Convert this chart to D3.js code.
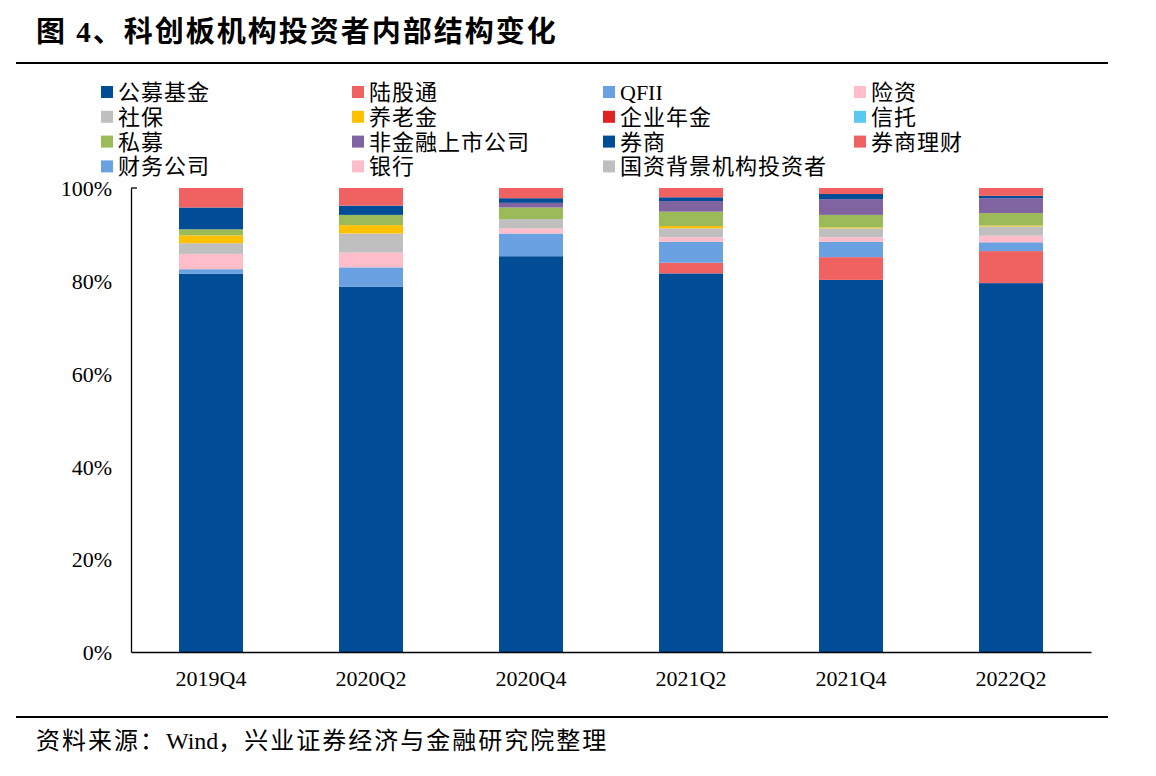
<!DOCTYPE html>
<html>
<head>
<meta charset="utf-8">
<script src="https://cdn.jsdelivr.net/npm/d3@7/dist/d3.min.js"></script>
<style>
  body { margin: 0; background: #fff; }
  text { font-family: "Liberation Serif", "Noto Sans CJK SC", serif; fill: #000; }
</style>
</head>
<body>
<div id="chart"></div>
<script>
// 季度
const periods = ["2019Q4", "2020Q2", "2020Q4", "2021Q2", "2021Q4", "2022Q2"];

// 系列（自下而上堆叠）
const seriesNames = ["公募基金", "陆股通", "QFII", "险资", "社保", "养老金", "企业年金", "信托",
    "私募", "非金融上市公司", "券商", "券商理财", "财务公司", "银行", "国资背景机构投资者"];
const seriesColors = ["#004C97", "#F06262", "#69A1E2", "#FFBDC9", "#BFBFBF", "#FFC000", "#E02222", "#5BC8F0",
    "#9BBB59", "#8064A2", "#004C97", "#F06262", "#69A1E2", "#FFBDC9", "#BFBFBF"];

// 各系列占比（%），按 periods 顺序
const gongmu     = [81.5, 78.7, 85.3, 81.6, 80.2, 79.5];
const lugutong   = [0.0, 0.0, 0.0, 2.3, 4.9, 6.9];
const qfii       = [1.0, 4.2, 4.9, 4.5, 3.3, 1.9];
const xianzi     = [3.3, 3.2, 1.1, 1.0, 1.0, 1.4];
const shebao     = [2.3, 4.1, 2.0, 1.9, 1.9, 2.0];
const yanglao    = [1.7, 1.8, 0.0, 0.5, 0.2, 0.2];
const qiyenianjin = [0.0, 0.0, 0.0, 0.0, 0.0, 0.0];
const xintuo     = [0.0, 0.0, 0.0, 0.0, 0.0, 0.0];
const simu       = [1.3, 2.2, 2.5, 3.1, 2.7, 2.7];
const feijinrong = [0.0, 0.0, 1.0, 2.3, 3.4, 3.2];
const quanshang  = [4.7, 2.0, 1.0, 0.8, 1.1, 0.5];
const qslicai    = [4.2, 3.8, 2.2, 2.0, 1.3, 1.7];
const caiwu      = [0.0, 0.0, 0.0, 0.0, 0.0, 0.0];
const yinhang    = [0.0, 0.0, 0.0, 0.0, 0.0, 0.0];
const guozi      = [0.0, 0.0, 0.0, 0.0, 0.0, 0.0];

const seriesValues = [gongmu, lugutong, qfii, xianzi, shebao, yanglao, qiyenianjin, xintuo,
    simu, feijinrong, quanshang, qslicai, caiwu, yinhang, guozi];

const yTicks = [0, 20, 40, 60, 80, 100];

const width = 1156, height = 776;
const svg = d3.select("#chart").append("svg")
    .attr("width", width).attr("height", height);

// 标题
svg.append("text")
    .attr("x", 36).attr("y", 42)
    .style("font-size", "29px").style("font-weight", "bold")
    .style("letter-spacing", "2px")
    .text("图 4、科创板机构投资者内部结构变化");

svg.append("line").attr("x1", 16).attr("x2", 1108).attr("y1", 63).attr("y2", 63)
    .attr("stroke", "#000").attr("stroke-width", 2);
svg.append("line").attr("x1", 16).attr("x2", 1108).attr("y1", 717).attr("y2", 717)
    .attr("stroke", "#000").attr("stroke-width", 2);

// 资料来源（拉丁字母不加字距）
const src = svg.append("text")
    .attr("x", 36).attr("y", 749)
    .style("font-size", "24px");
src.append("tspan").style("letter-spacing", "2px").text("资料来源：");
src.append("tspan").text("Wind");
src.append("tspan").style("letter-spacing", "2px").text("，兴业证券经济与金融研究院整理");

// 图例
const legendX = [101, 352, 603, 854];
const legend = svg.append("g");
seriesNames.forEach((name, i) => {
    const col = i % 4, row = Math.floor(i / 4);
    const g = legend.append("g")
        .attr("transform", `translate(${legendX[col]},${92 + row * 24.8})`);
    g.append("rect").attr("x", 0).attr("y", -6).attr("width", 12).attr("height", 12)
        .attr("fill", seriesColors[i]);
    g.append("text").attr("x", 17).attr("y", 8)
        .style("font-size", "22px")
        .style("letter-spacing", /^[A-Z]+$/.test(name) ? "0px" : "1px")
        .text(name);
});

// 坐标
const x = d3.scaleBand().domain(periods).range([131, 1091]).paddingInner(0.6).paddingOuter(0.3);
const y = d3.scaleLinear().domain([0, 100]).range([652, 188]);

const stackData = periods.map((p, j) => {
    const row = { period: p };
    seriesNames.forEach((s, i) => { row[s] = seriesValues[i][j]; });
    return row;
});
const stacked = d3.stack().keys(seriesNames)(stackData);

svg.append("g").selectAll("g")
    .data(stacked)
    .enter().append("g")
    .attr("fill", (d, i) => seriesColors[i])
    .selectAll("rect")
    .data(d => d)
    .enter().append("rect")
    .attr("x", d => x(d.data.period))
    .attr("width", x.bandwidth())
    .attr("y", d => y(Math.min(d[1], 100)))
    .attr("height", d => Math.max(0, y(d[0]) - y(Math.min(d[1], 100))));

// y 轴
const yAxis = svg.append("g").attr("transform", "translate(131,0)")
    .call(d3.axisLeft(y).tickValues(yTicks).tickSize(0).tickPadding(19).tickFormat(d => d + "%"));
yAxis.select(".domain").attr("stroke", "#000").attr("stroke-width", 1.3);
yAxis.selectAll("text").style("font-size", "22px").attr("dy", "0.35em")
    .style("font-family", "Liberation Serif");
svg.append("line").attr("x1", 131).attr("x2", 137).attr("y1", y(100)).attr("y2", y(100))
    .attr("stroke", "#000").attr("stroke-width", 1.3);

// x 轴
const xAxis = svg.append("g").attr("transform", "translate(0,652)")
    .call(d3.axisBottom(x).tickSize(0).tickPadding(18));
xAxis.select(".domain").attr("stroke", "#000").attr("stroke-width", 1.3);
xAxis.selectAll("text").style("font-size", "22px").style("font-family", "Liberation Serif");
</script>
</body>
</html>
